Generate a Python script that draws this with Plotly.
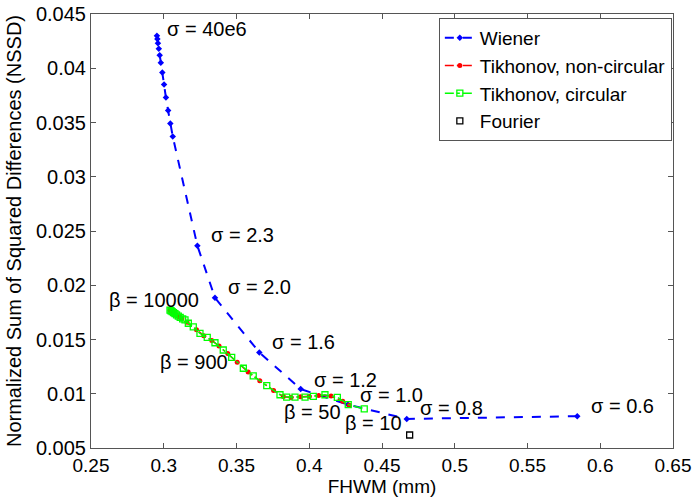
import plotly.graph_objects as go

# ---------------- data ----------------
wiener_x = [0.2953, 0.2956, 0.2960, 0.2966, 0.2972, 0.2980, 0.2990, 0.3002, 0.3015, 0.3030,
            0.3045, 0.3062, 0.3231, 0.3352, 0.3657, 0.3941, 0.4265, 0.4670, 0.5842]
wiener_y = [0.0430, 0.0427, 0.0423, 0.0418, 0.0412, 0.0405, 0.0396, 0.0385, 0.0373, 0.0361,
            0.0349, 0.0337, 0.02365, 0.01885, 0.01381, 0.01043, 0.0090, 0.00768, 0.00793]

tik_nc_x = [0.3043, 0.3047, 0.3053, 0.3061, 0.3071, 0.3082, 0.3094, 0.3108, 0.3125, 0.3160,
            0.3225, 0.3275, 0.3330, 0.3380, 0.3440, 0.3505, 0.3580, 0.3660, 0.3755, 0.3822,
            0.3875, 0.3940, 0.4000, 0.4065, 0.4150, 0.4230, 0.4275]
tik_nc_y = [0.0177, 0.01767, 0.01761, 0.01753, 0.01743, 0.01732, 0.01720, 0.01708, 0.01694, 0.01660,
            0.01590, 0.01535, 0.01490, 0.01440, 0.01370, 0.01290, 0.01200, 0.01120, 0.01030, 0.00975,
            0.00965, 0.00972, 0.00975, 0.00985, 0.00980, 0.00930, 0.00895]

tik_c_x = [0.3043, 0.3050, 0.3058, 0.3067, 0.3077, 0.3088, 0.3100, 0.3113, 0.3130, 0.3146,
           0.3169, 0.3203, 0.3249, 0.3299, 0.3352, 0.3409, 0.3467, 0.3547, 0.3615, 0.3708,
           0.3799, 0.3845, 0.3902, 0.3971, 0.4028, 0.4108, 0.4193, 0.4268, 0.4378]
tik_c_y = [0.0177, 0.01765, 0.01757, 0.01748, 0.01738, 0.01727, 0.01715, 0.01703, 0.01690, 0.0168,
           0.01650, 0.01617, 0.01556, 0.01519, 0.0147, 0.01403, 0.01336, 0.01235, 0.01165, 0.01074,
           0.00991, 0.00969, 0.00969, 0.00969, 0.00976, 0.00991, 0.00967, 0.0090, 0.0086]

fourier_x = [0.4690]
fourier_y = [0.0062]

label_text = ["σ = 40e6", "σ = 2.3", "σ = 2.0", "σ = 1.6", "σ = 1.2", "σ = 1.0", "σ = 0.8",
              "σ = 0.6", "β = 10000", "β = 900", "β = 50", "β = 10"]
label_x = [0.3009, 0.3313, 0.3428, 0.3730, 0.4017, 0.4337, 0.4750, 0.5925, 0.2610, 0.2961, 0.3811, 0.4234]
label_y = [0.0436, 0.02459, 0.01983, 0.0148, 0.01129, 0.00991, 0.00869, 0.00891, 0.01868, 0.01296, 0.00829, 0.00732]

x_ticks = [0.25, 0.3, 0.35, 0.4, 0.45, 0.5, 0.55, 0.6, 0.65]
x_tick_text = ["0.25", "0.3", "0.35", "0.4", "0.45", "0.5", "0.55", "0.6", "0.65"]
y_ticks = [0.005, 0.01, 0.015, 0.02, 0.025, 0.03, 0.035, 0.04, 0.045]
y_tick_text = ["0.005", "0.01", "0.015", "0.02", "0.025", "0.03", "0.035", "0.04", "0.045"]

FONT = "Liberation Sans, Arial, sans-serif"

fig = go.Figure()
fig.add_trace(go.Scatter(
    x=wiener_x, y=wiener_y, name="Wiener", mode="lines+markers",
    line=dict(color="#0000FF", width=2, dash="dash"),
    marker=dict(symbol="diamond", size=5, color="#0000FF")))
fig.add_trace(go.Scatter(
    x=tik_nc_x, y=tik_nc_y, name="Tikhonov, non-circular", mode="lines+markers",
    line=dict(color="#FF0000", width=1.5, dash="dashdot"),
    marker=dict(symbol="circle", size=5, color="#FF0000")))
fig.add_trace(go.Scatter(
    x=tik_c_x, y=tik_c_y, name="Tikhonov, circular", mode="lines+markers",
    line=dict(color="#00FF00", width=1.5, dash="dashdot"),
    marker=dict(symbol="square-open", size=6, color="#00FF00", line=dict(width=1.3))))
fig.add_trace(go.Scatter(
    x=fourier_x, y=fourier_y, name="Fourier", mode="markers",
    marker=dict(symbol="square-open", size=6, color="#000000", line=dict(width=1.3))))

for t, xx, yy in zip(label_text, label_x, label_y):
    fig.add_annotation(x=xx, y=yy, text=t, showarrow=False, xanchor="left", yanchor="middle",
                       font=dict(family=FONT, size=20, color="#000000"))

axis_common = dict(showgrid=False, zeroline=False, showline=True, linecolor="#555555", linewidth=1,
                   mirror="ticks", ticks="inside", ticklen=5, tickcolor="#555555",
                   automargin=False, ticklabeloverflow="allow")

fig.update_xaxes(range=[0.25, 0.65], tickvals=x_ticks, ticktext=x_tick_text,
                 tickfont=dict(family=FONT, size=19, color="#000000"),
                 title=dict(text="FHWM (mm)", font=dict(family=FONT, size=19, color="#000000"), standoff=8),
                 **axis_common)
fig.update_yaxes(range=[0.005, 0.045], tickvals=y_ticks, ticktext=y_tick_text,
                 tickfont=dict(family=FONT, size=20, color="#000000"),
                 title=dict(text="Normalized Sum of Squared Differences (NSSD)",
                            font=dict(family=FONT, size=20, color="#000000"), standoff=8),
                 **axis_common)

fig.update_layout(
    width=692, height=497,
    margin=dict(l=91, r=19, t=14, b=49),
    plot_bgcolor="white", paper_bgcolor="white",
    font=dict(family=FONT, size=20, color="#000000"),
    legend=dict(x=0.998, y=0.991, xanchor="right", yanchor="top",
                bgcolor="white", bordercolor="#555555", borderwidth=1,
                font=dict(family=FONT, size=19, color="#000000"),
                itemwidth=30, tracegroupgap=0),
    showlegend=True,
)

fig.write_html("out.html")
